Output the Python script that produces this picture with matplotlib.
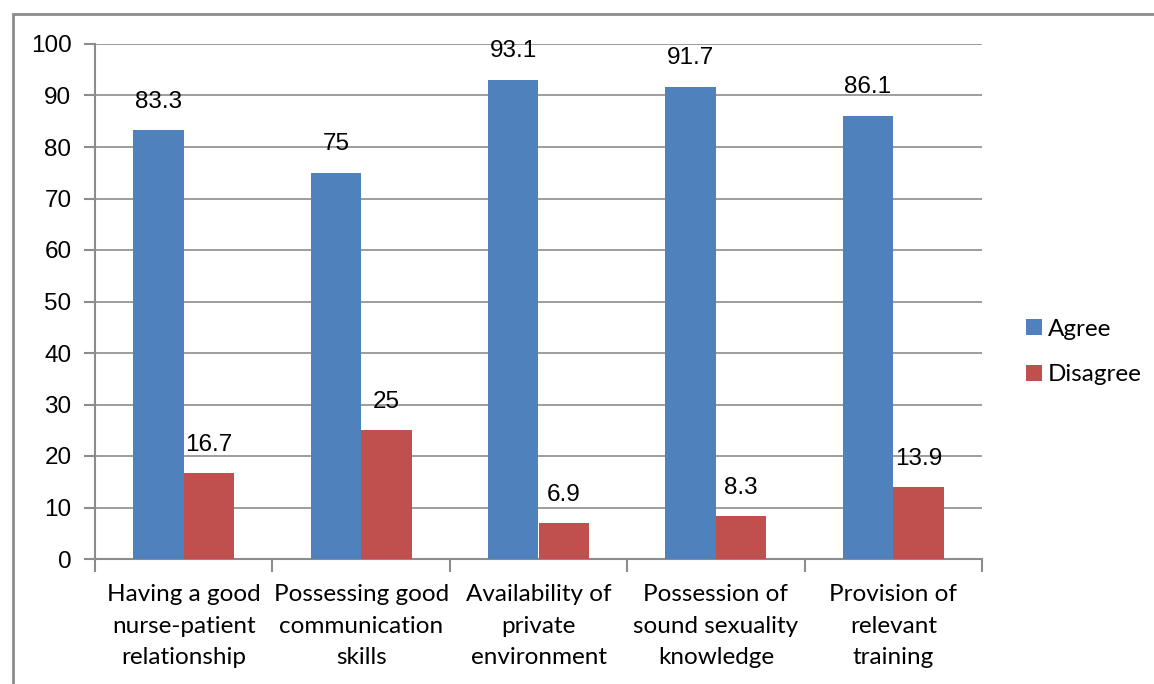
import numpy as np
import matplotlib.pyplot as plt
from matplotlib.patches import Rectangle

categories = ['Having a good\nnurse-patient\nrelationship',
              'Possessing good\ncommunication\nskills',
              'Availability of\nprivate\nenvironment',
              'Possession of\nsound sexuality\nknowledge',
              'Provision of\nrelevant\ntraining']
agree = [83.3, 75, 93.1, 91.7, 86.1]
disagree = [16.7, 25, 6.9, 8.3, 13.9]

W, H = 1154, 684
fig = plt.figure(figsize=(W / 100, H / 100), dpi=100)

# chart frame (right and bottom edges fall outside the image)
fig.patches.append(Rectangle((13 / W, -0.1), 1.2, (H - 14) / H + 0.1,
                             transform=fig.transFigure, fill=False,
                             edgecolor='#8c8c8c', linewidth=2))

ax = fig.add_axes([95 / W, 1 - 559 / H, (982 - 95) / W, (559 - 44) / H])

x = np.arange(len(categories))
w = 0.285
b1 = ax.bar(x - w / 2, agree, w, color='#4F81BD', label='Agree', zorder=3)
b2 = ax.bar(x + w / 2, disagree, w, color='#C0504D', label='Disagree', zorder=3)

for bars, vals in ((b1, agree), (b2, disagree)):
    for r, v in zip(bars, vals):
        ax.text(r.get_x() + r.get_width() / 2, v + 5.5, f'{v:g}',
                ha='center', va='center', fontsize=17.5,
                family='Liberation Sans')

ax.set_xlim(-0.5, len(categories) - 0.5)
ax.set_ylim(0, 100)
ax.set_yticks(range(0, 101, 10))
ax.yaxis.grid(True, color='#8c8c8c', linewidth=1.2, zorder=0)
ax.set_axisbelow(True)

ax.set_xticks(np.arange(len(categories) + 1) - 0.5)
ax.set_xticklabels([])
ax.set_xticks(x, minor=True)
ax.set_xticklabels(categories, minor=True, fontsize=17.5, family='Lato',
                   linespacing=1.62)
ax.tick_params(axis='x', which='minor', length=0, pad=18)
ax.tick_params(axis='x', which='major', length=9, color='#8c8c8c', width=1.5)
ax.tick_params(axis='y', length=8, color='#8c8c8c', width=1.5, pad=9)
for lab in ax.get_yticklabels():
    lab.set_fontsize(17.5)
    lab.set_family('Liberation Sans')

for s in ('top', 'right'):
    ax.spines[s].set_visible(False)
for s in ('left', 'bottom'):
    ax.spines[s].set_color('#8c8c8c')
    ax.spines[s].set_linewidth(1.5)

fig.legend(loc='center left', bbox_to_anchor=(1004 / W, 1 - 352 / H),
           frameon=False, prop={'family': 'Lato', 'size': 17.5},
           handlelength=0.65, handleheight=0.65, handletextpad=0.25,
           labelspacing=1.0)

fig.savefig('out.png', dpi=100)
